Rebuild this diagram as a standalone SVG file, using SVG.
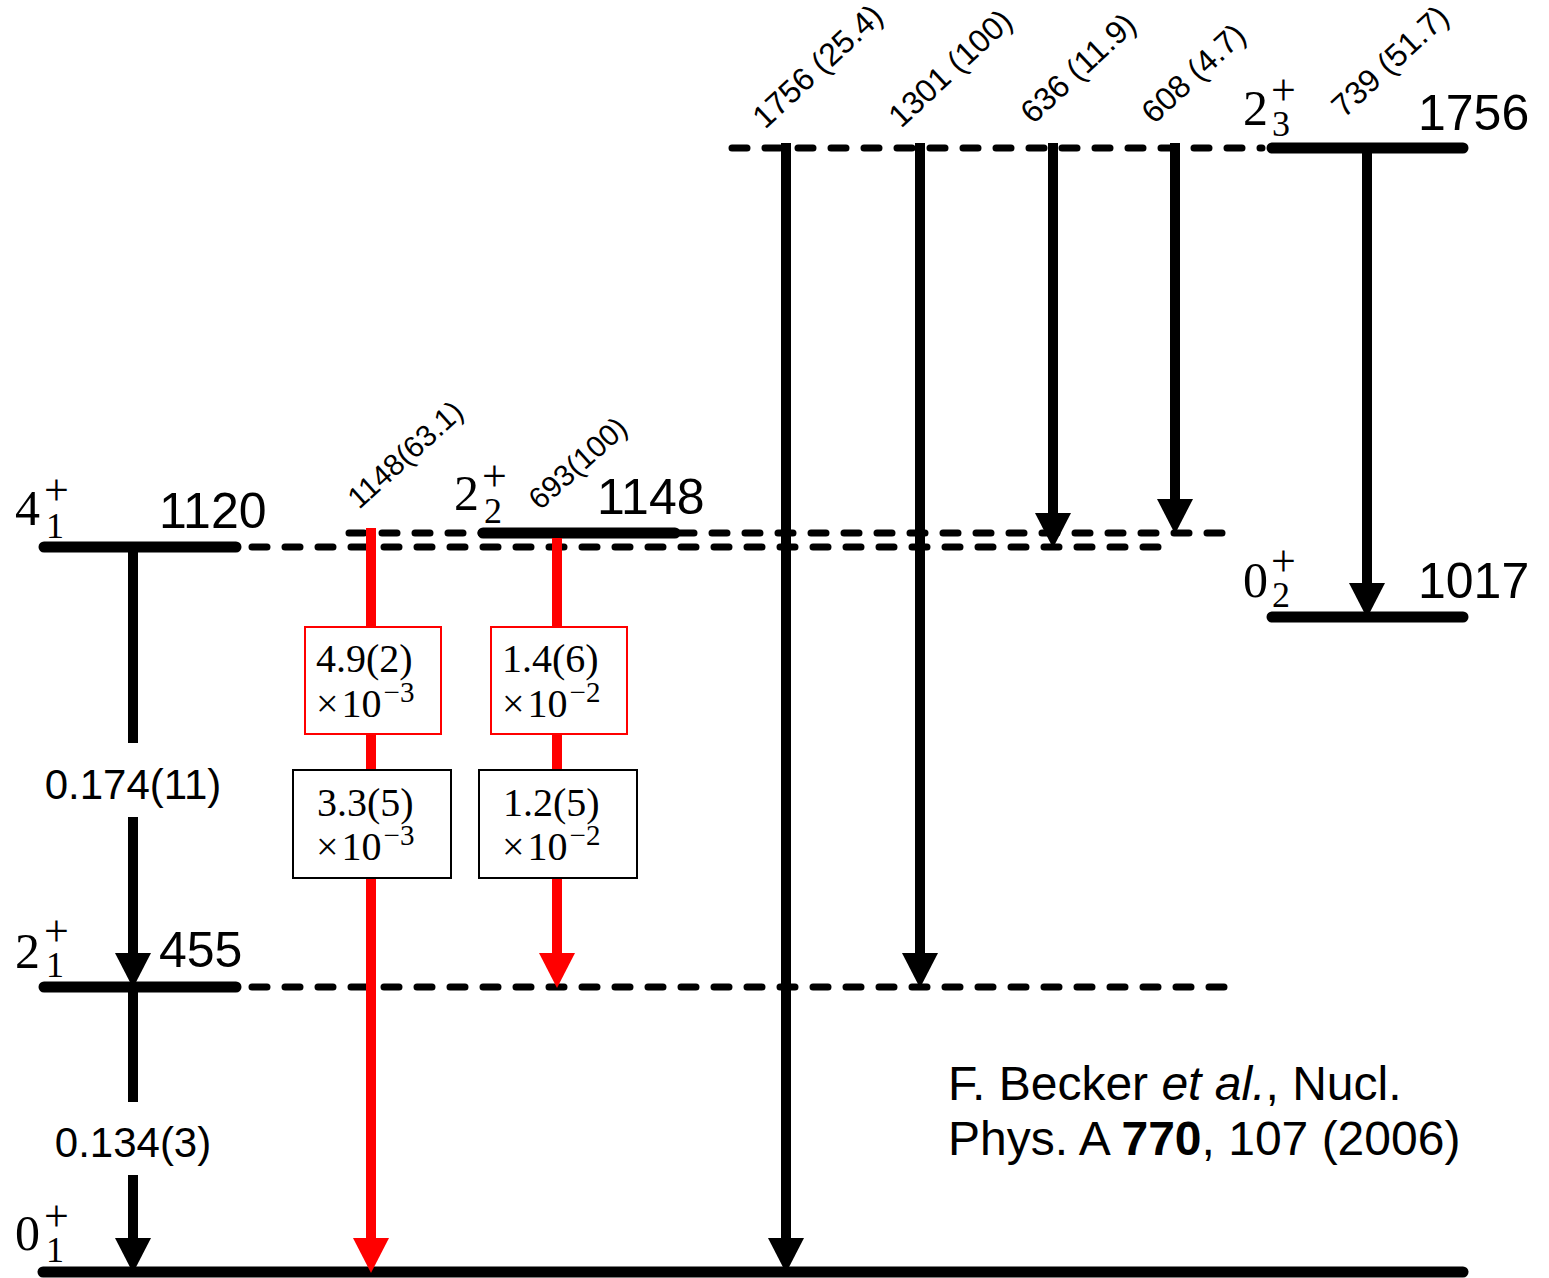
<svg xmlns="http://www.w3.org/2000/svg" width="1549" height="1278" viewBox="0 0 1549 1278">
<defs>
<style>
.lvl{stroke:#000;stroke-width:11;stroke-linecap:round;fill:none}
.dash{stroke:#000;stroke-width:7;stroke-linecap:round;stroke-dasharray:15 18;fill:none}
.arr{stroke:#000;stroke-width:10;fill:none}
.red{stroke:#ff0000;stroke-width:10;fill:none}
.en{font-family:"Liberation Sans",Arial,sans-serif;font-size:50px;fill:#000}
.sp{font-family:"Liberation Serif","Times New Roman",serif;font-size:50px;fill:#000}
.ss{font-family:"Liberation Serif","Times New Roman",serif;font-size:36px;fill:#000}
.pl{font-family:"Liberation Serif","Times New Roman",serif;font-size:44px;fill:#000}
.rot{font-family:"Liberation Sans",Arial,sans-serif;font-size:32px;fill:#000}
.rot2{font-family:"Liberation Sans",Arial,sans-serif;font-size:30px;fill:#000}
.bt{font-family:"Liberation Serif","Times New Roman",serif;font-size:40px;fill:#000}
.bs{font-size:29px}
.lab{font-family:"Liberation Sans",Arial,sans-serif;font-size:42px;fill:#000;text-anchor:middle}
.ref{font-family:"Liberation Sans",Arial,sans-serif;font-size:48px;fill:#000}
.rbox{fill:#fff;stroke:#ff0000;stroke-width:2}
.kbox{fill:#fff;stroke:#000;stroke-width:2}
</style>
<marker id="ah" markerUnits="userSpaceOnUse" markerWidth="36" markerHeight="36" refX="0" refY="18" orient="auto" viewBox="0 0 36 36"><path d="M0,0 L35,18 L0,36 z" fill="#000"/></marker>
<marker id="ahr" markerUnits="userSpaceOnUse" markerWidth="36" markerHeight="36" refX="0" refY="18" orient="auto" viewBox="0 0 36 36"><path d="M0,0 L35,18 L0,36 z" fill="#ff0000"/></marker>
</defs>
<rect width="1549" height="1278" fill="#fff"/>

<g id="dashed-lines">
<line class="dash" x1="732" y1="148" x2="1262" y2="148"/>
<line class="dash" x1="349" y1="533" x2="1228" y2="533"/>
<line class="dash" x1="252" y1="547" x2="1168" y2="547"/>
<line class="dash" x1="252" y1="987" x2="1228" y2="987"/>
</g>

<g id="level-0-1">
<line class="lvl" x1="43" y1="1272" x2="1463" y2="1272"/>
<text class="sp" x="15" y="1250">0</text>
<text class="pl" x="44" y="1231">+</text>
<text class="ss" x="46" y="1262">1</text>
</g>
<g id="level-2-1">
<line class="lvl" x1="44" y1="987" x2="236" y2="987"/>
<text class="sp" x="15" y="968">2</text>
<text class="pl" x="44" y="946">+</text>
<text class="ss" x="46" y="977">1</text>
<text class="en" x="159" y="967">455</text>
</g>
<g id="level-4-1">
<line class="lvl" x1="44" y1="547" x2="236" y2="547"/>
<text class="sp" x="15" y="525">4</text>
<text class="pl" x="44" y="505">+</text>
<text class="ss" x="46" y="538">1</text>
<text class="en" x="159" y="528">1120</text>
</g>
<g id="level-2-2">
<line class="lvl" x1="483" y1="533" x2="675" y2="533"/>
<text class="sp" x="454" y="510">2</text>
<text class="pl" x="482" y="491">+</text>
<text class="ss" x="484" y="523">2</text>
<text class="en" x="597" y="514">1148</text>
</g>
<g id="level-0-2">
<line class="lvl" x1="1272" y1="617" x2="1463" y2="617"/>
<text class="sp" x="1243" y="597">0</text>
<text class="pl" x="1271" y="576">+</text>
<text class="ss" x="1272" y="607">2</text>
<text class="en" x="1418" y="598">1017</text>
</g>
<g id="level-2-3">
<line class="lvl" x1="1272" y1="148" x2="1463" y2="148"/>
<text class="sp" x="1243" y="125">2</text>
<text class="pl" x="1271" y="105">+</text>
<text class="ss" x="1272" y="136">3</text>
<text class="en" x="1418" y="130">1756</text>
</g>

<g id="connectors">
<line class="arr" x1="133" y1="547" x2="133" y2="743"/>
<line class="arr" x1="133" y1="817" x2="133" y2="953" marker-end="url(#ah)"/>
<line class="arr" x1="133" y1="987" x2="133" y2="1102"/>
<line class="arr" x1="133" y1="1175" x2="133" y2="1238" marker-end="url(#ah)"/>
<line class="red" x1="371" y1="528" x2="371" y2="1238" marker-end="url(#ahr)"/>
<line class="red" x1="557" y1="538" x2="557" y2="953" marker-end="url(#ahr)"/>
<line class="arr" x1="786" y1="143" x2="786" y2="1238" marker-end="url(#ah)"/>
<line class="arr" x1="920" y1="143" x2="920" y2="953" marker-end="url(#ah)"/>
<line class="arr" x1="1053" y1="143" x2="1053" y2="513" marker-end="url(#ah)"/>
<line class="arr" x1="1175" y1="143" x2="1175" y2="499" marker-end="url(#ah)"/>
<line class="arr" x1="1367" y1="148" x2="1367" y2="583" marker-end="url(#ah)"/>
</g>

<g id="transition-labels">
<text class="lab" x="133" y="799">0.174(11)</text>
<text class="lab" x="133" y="1157">0.134(3)</text>
<text class="rot" transform="translate(765,130) rotate(-43)">1756 (25.4)</text>
<text class="rot" transform="translate(901,129) rotate(-43)">1301 (100)</text>
<text class="rot" transform="translate(1033,125) rotate(-43)">636 (11.9)</text>
<text class="rot" transform="translate(1154,125) rotate(-43)">608 (4.7)</text>
<text class="rot" transform="translate(1344,119) rotate(-43)">739 (51.7)</text>
<text class="rot2" transform="translate(359,510) rotate(-42)">1148(63.1)</text>
<text class="rot2" transform="translate(540,511) rotate(-42)">693(100)</text>
</g>

<g id="box-red-1">
<rect class="rbox" x="305" y="627" width="136" height="107"/>
<text class="bt" x="316" y="672">4.9(2)</text>
<text class="bt" x="316" y="717">×<tspan dx="3">10</tspan><tspan class="bs" dx="2" dy="-15">−3</tspan></text>
</g>
<g id="box-red-2">
<rect class="rbox" x="491" y="627" width="136" height="107"/>
<text class="bt" x="502" y="672">1.4(6)</text>
<text class="bt" x="502" y="717">×<tspan dx="3">10</tspan><tspan class="bs" dx="2" dy="-15">−2</tspan></text>
</g>
<g id="box-black-1">
<rect class="kbox" x="293" y="770" width="158" height="108"/>
<text class="bt" x="317" y="816">3.3(5)</text>
<text class="bt" x="316" y="860">×<tspan dx="3">10</tspan><tspan class="bs" dx="2" dy="-15">−3</tspan></text>
</g>
<g id="box-black-2">
<rect class="kbox" x="479" y="770" width="158" height="108"/>
<text class="bt" x="503" y="816">1.2(5)</text>
<text class="bt" x="502" y="860">×<tspan dx="3">10</tspan><tspan class="bs" dx="2" dy="-15">−2</tspan></text>
</g>

<g id="reference">
<text class="ref" x="948" y="1100">F. Becker <tspan font-style="italic">et al.</tspan>, Nucl.</text>
<text class="ref" x="948" y="1155">Phys. A <tspan font-weight="bold">770</tspan>, 107 (2006)</text>
</g>
</svg>
